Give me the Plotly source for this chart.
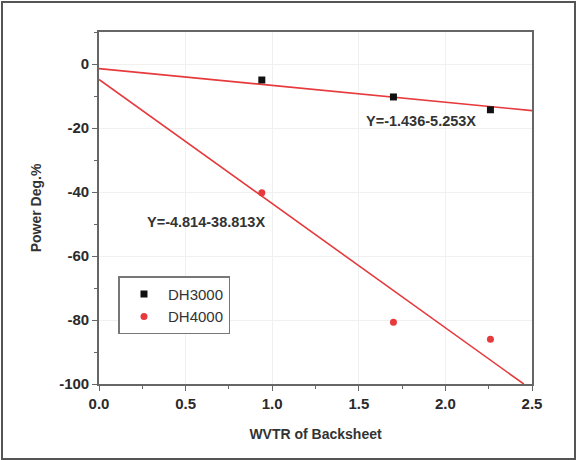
import plotly.graph_objects as go

# data
wvtr = [0.94, 1.70, 2.26]
dh3000 = [-5.0, -10.3, -14.3]
dh4000 = [-40.2, -80.7, -86.0]

# fit coefficients (from annotations)
fit1 = (-1.436, -5.253)
fit2 = (-4.814, -38.813)
fit1_x = [0.0, 2.5]
fit2_x = [0.0, (-100 - fit2[0]) / fit2[1]]

x_ticks = [0.0, 0.5, 1.0, 1.5, 2.0, 2.5]
x_ticktext = ["0.0", "0.5", "1.0", "1.5", "2.0", "2.5"]
y_ticks = [0, -20, -40, -60, -80, -100]
y_ticktext = ["0", "-20", "-40", "-60", "-80", "-100"]

red = "#e63a3d"
font = "Liberation Sans, Arial, sans-serif"
txt = "#2a2a2a"

fig = go.Figure()
fig.add_trace(go.Scatter(x=fit1_x, y=[fit1[0] + fit1[1] * v for v in fit1_x],
                         mode="lines", line=dict(color=red, width=1.6), showlegend=False))
fig.add_trace(go.Scatter(x=fit2_x, y=[fit2[0] + fit2[1] * v for v in fit2_x],
                         mode="lines", line=dict(color=red, width=1.6), showlegend=False))
fig.add_trace(go.Scatter(x=wvtr, y=dh3000, mode="markers", name="DH3000",
                         marker=dict(symbol="square", size=7, color="#111111")))
fig.add_trace(go.Scatter(x=wvtr, y=dh4000, mode="markers", name="DH4000",
                         marker=dict(symbol="circle", size=7, color=red)))

axis_common = dict(showline=True, linecolor="#666666", linewidth=1.6, mirror=True,
                   ticks="outside", ticklen=5, tickwidth=1.2, tickcolor="#666666",
                   showgrid=True, gridcolor="#f0f0f0", gridwidth=1, zeroline=False,
                   tickfont=dict(family=font, size=15, color=txt, weight="bold"))

fig.update_xaxes(range=[0, 2.5], tickvals=x_ticks, ticktext=x_ticktext,
                 minor=dict(dtick=0.25, ticks="outside", ticklen=3, tickcolor="#666666", showgrid=False),
                 title=dict(text="WVTR of Backsheet",
                            font=dict(family=font, size=14, color="#333333", weight="bold"), standoff=18),
                 **axis_common)
fig.update_yaxes(range=[-100, 10], tickvals=y_ticks, ticktext=y_ticktext,
                 minor=dict(dtick=10, ticks="outside", ticklen=3, tickcolor="#666666", showgrid=False),
                 title=dict(text="Power Deg.%",
                            font=dict(family=font, size=14, color="#333333", weight="bold"), standoff=14),
                 **axis_common)

fig.add_annotation(x=1.86, y=-17.8, xref="x", yref="y", showarrow=False,
                   text="Y=-1.436-5.253X",
                   font=dict(family=font, size=14.5, color="#333333", weight="bold"))
fig.add_annotation(x=0.62, y=-49.3, xref="x", yref="y", showarrow=False,
                   text="Y=-4.814-38.813X",
                   font=dict(family=font, size=14.5, color="#333333", weight="bold"))

# outer frame
fig.add_shape(type="rect", xref="paper", yref="paper",
              x0=-97/433, x1=476/433, y0=(384-459)/352, y1=(384-2)/352,
              line=dict(color="#555555", width=2))

fig.update_layout(
    width=580, height=460,
    margin=dict(l=99, r=48, t=32, b=76),
    paper_bgcolor="white", plot_bgcolor="white",
    font=dict(family=font, color=txt),
    legend=dict(x=0.045, y=0.306, xanchor="left", yanchor="top",
                bordercolor="#777777", borderwidth=1.5, bgcolor="white",
                font=dict(family=font, size=15, color="#333333"),
                itemwidth=38, tracegroupgap=2),
)

fig.write_html("out.html", config={"displayModeBar": False},
               post_script="document.body.style.margin='0';document.body.style.padding='0';")
